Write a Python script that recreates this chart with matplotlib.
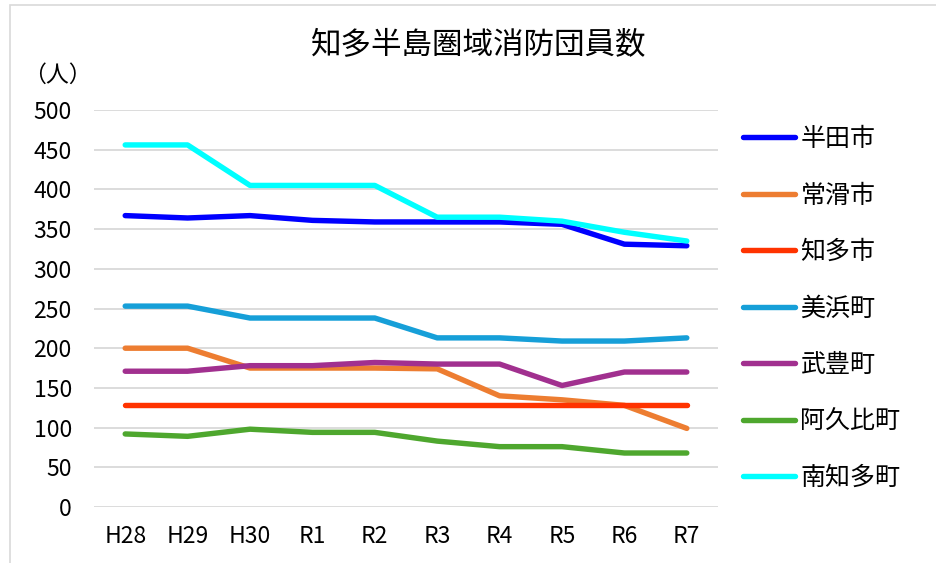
import matplotlib
matplotlib.use("Agg")
import matplotlib.pyplot as plt
from matplotlib.patches import Rectangle

plt.rcParams['font.family'] = ['Noto Sans CJK JP', 'DejaVu Sans']

categories = ["H28", "H29", "H30", "R1", "R2", "R3", "R4", "R5", "R6", "R7"]
handa = [367, 364, 367, 361, 359, 359, 359, 356, 331, 329]
tokoname = [200, 200, 175, 175, 175, 174, 140, 135, 128, 99]
chita = [128, 128, 128, 128, 128, 128, 128, 128, 128, 128]
mihama = [253, 253, 238, 238, 238, 213, 213, 209, 209, 213]
taketoyo = [171, 171, 178, 178, 182, 180, 180, 153, 170, 170]
agui = [92, 89, 98, 94, 94, 83, 76, 76, 68, 68]
minamichita = [456, 456, 405, 405, 405, 365, 365, 360, 346, 335]

series_names = ["半田市", "常滑市", "知多市", "美浜町", "武豊町", "阿久比町", "南知多町"]
series_values = [handa, tokoname, chita, mihama, taketoyo, agui, minamichita]
colors = ["#0000ff", "#ed7d31", "#ff3300", "#169fd8", "#a1308f", "#4ea72e", "#00ffff"]
yticks = [0, 50, 100, 150, 200, 250, 300, 350, 400, 450, 500]
title = "知多半島圏域消防団員数"
unit = "（人）"

W, H = 937, 563
fig = plt.figure(figsize=(W / 100, H / 100), dpi=100)
fig.patches.append(Rectangle((10 / W, -0.05), 1.2, (H - 5) / H + 0.05,
                             transform=fig.transFigure, fill=False,
                             edgecolor="#d9d9d9", linewidth=1.2))

ax = fig.add_axes([94 / W, (H - 507) / H, (718 - 94) / W, (507 - 110) / H])
x = list(range(len(categories)))
for name, vals, c in zip(series_names, series_values, colors):
    ax.plot(x, vals, color=c, linewidth=3.9, solid_capstyle="round",
            solid_joinstyle="round", label=name)

ax.set_xlim(-0.5, len(categories) - 0.5)
ax.set_ylim(0, 500)
ax.set_yticks(yticks)
ax.set_xticks(x)
ax.set_xticklabels(categories)
ax.grid(axis="y", color="#d9d9d9", linewidth=1.3)
ax.set_axisbelow(True)
for s in ax.spines.values():
    s.set_visible(False)
ax.tick_params(axis="both", length=0, labelsize=16.5, colors="black")
ax.tick_params(axis="y", pad=16)
ax.tick_params(axis="x", pad=13)

fig.text(479 / W, 1 - 46 / H, title, fontsize=22, ha="center", va="center")
fig.text(57 / W, 1 - 75 / H, unit, fontsize=16.5, ha="center", va="center")

leg = ax.legend(loc="upper left", bbox_to_anchor=(743 / W, 1 - 126 / H),
                bbox_transform=fig.transFigure, frameon=False, fontsize=18,
                handlelength=2.1, handletextpad=0.2, labelspacing=1.22,
                borderaxespad=0, borderpad=0)

fig.savefig("out.png", dpi=100)
